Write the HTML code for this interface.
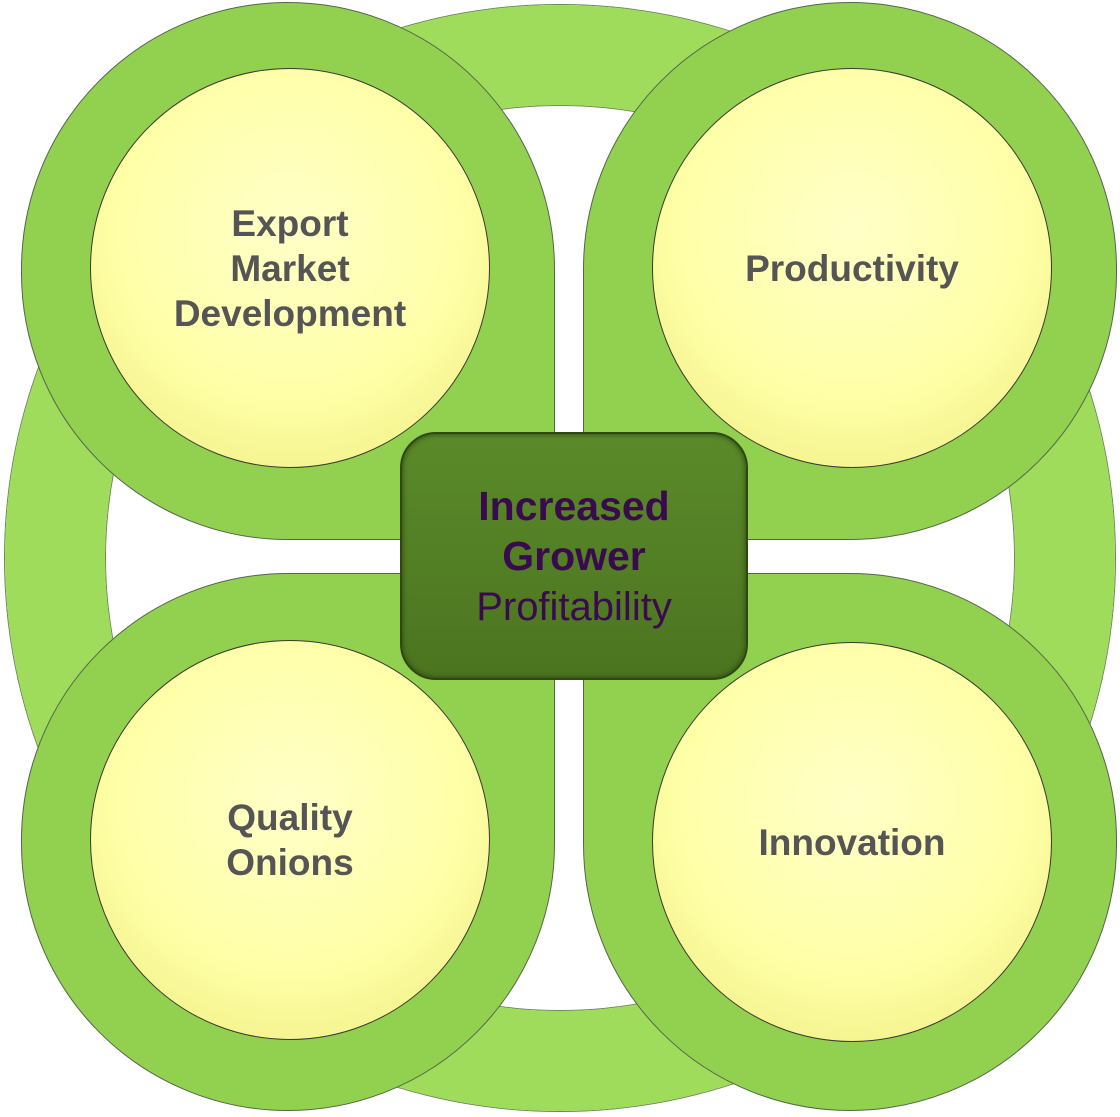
<!DOCTYPE html>
<html><head><style>
body{margin:0;width:1120px;height:1117px;background:#fff;position:relative;overflow:hidden;font-family:"Liberation Sans",sans-serif}
.ring{position:absolute;left:5px;top:5px;width:910px;height:906px;border:100px solid #9fdc5c;border-radius:50%;box-shadow:0 0 0 1px #6a8a50, inset 0 0 0 1px #6a8a50}
.q{position:absolute;width:534px;height:538px;background:#92d050;border:1.5px solid #55654a;box-sizing:border-box}
.c{position:absolute;width:400px;height:400px;border-radius:50%;background:radial-gradient(circle at 50% 40%,#ffffc8 0%,#ffffa8 55%,#f4f490 78%,#d8d070 90%,#8a8440 100%);border:1.5px solid #3a3a30;box-sizing:border-box;display:flex;align-items:center;justify-content:center;text-align:center;color:#555;font-weight:bold;font-size:37px;line-height:45px}
.center{position:absolute;left:400px;top:432px;width:348px;height:248px;border-radius:36px;background:linear-gradient(#5a8a2a,#4c7420);border:2px solid #2e4812;box-sizing:border-box;box-shadow:inset 0 0 6px #2a400e;display:flex;align-items:center;justify-content:center;text-align:center;color:#3a0a4e;font-size:41px;line-height:50px}
</style></head><body>
<div class="ring"></div>
<div class="q" style="left:21px;top:2px;border-radius:267px 267px 0 267px"></div>
<div class="q" style="left:583px;top:2px;border-radius:267px 267px 267px 0"></div>
<div class="q" style="left:21px;top:573px;border-radius:267px 0 267px 267px"></div>
<div class="q" style="left:583px;top:573px;border-radius:0 267px 267px 267px"></div>
<div class="c" style="left:90px;top:68px">Export<br>Market<br>Development</div>
<div class="c" style="left:652px;top:68px">Productivity</div>
<div class="c" style="left:90px;top:640px">Quality<br>Onions</div>
<div class="c" style="left:652px;top:642px">Innovation</div>
<div class="center"><div><b>Increased<br>Grower</b><br><span style="font-size:40px">Profitability</span></div></div>
</body></html>
